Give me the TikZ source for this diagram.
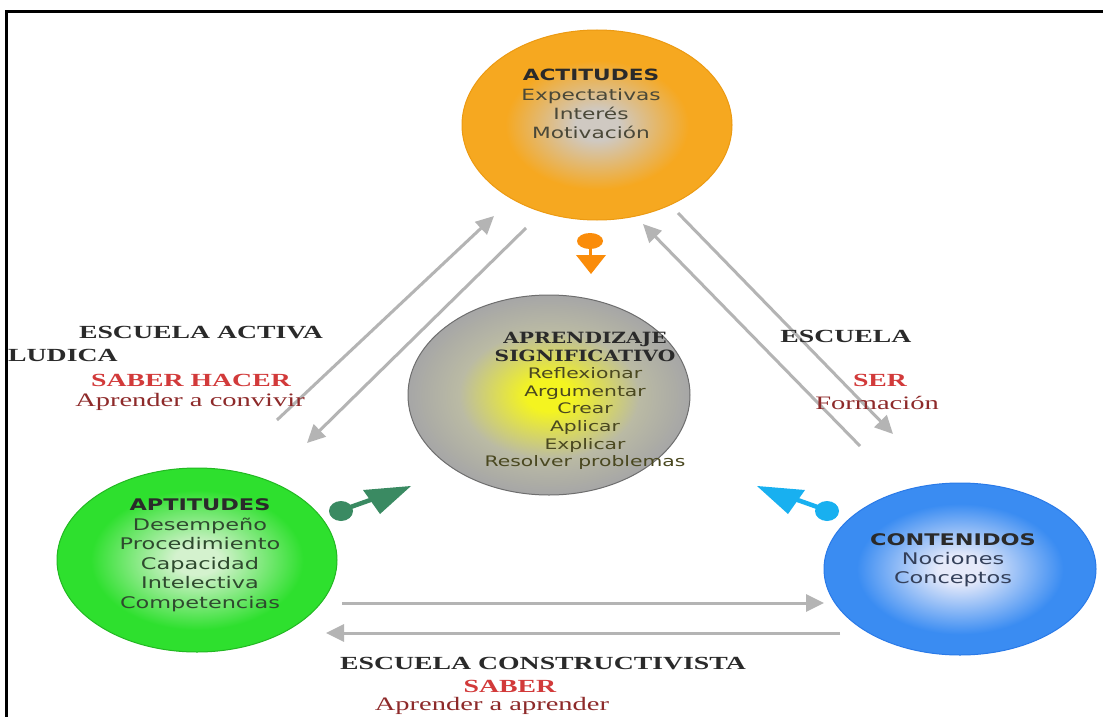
\documentclass[tikz,border=0pt]{standalone}
\usepackage{fontspec}
\usetikzlibrary{shapes.geometric,arrows.meta}
\newfontfamily\fsans[FakeStretch=1.4]{DejaVu Sans}
\newfontfamily\fdser[FakeStretch=1.3]{DejaVu Serif}
\newfontfamily\fserif[FakeStretch=1.5]{Liberation Serif}
\definecolor{ocen}{HTML}{CFC9C2}
\definecolor{oout}{HTML}{F6A820}
\definecolor{oedge}{HTML}{EC9A12}
\definecolor{mcen}{HTML}{F4F420}
\definecolor{mmid}{HTML}{BABAA4}
\definecolor{mout}{HTML}{A6A6A6}
\definecolor{medge}{HTML}{6E6E6E}
\definecolor{gcen}{HTML}{D4F2CE}
\definecolor{gout}{HTML}{2EE02E}
\definecolor{gedge}{HTML}{22B822}
\definecolor{bcen}{HTML}{E6EAFA}
\definecolor{bout}{HTML}{3A8CF2}
\definecolor{bedge}{HTML}{2A7AE8}
\definecolor{arrowgray}{HTML}{B4B4B4}
\definecolor{pinorange}{HTML}{FA8C0A}
\definecolor{pingreen}{HTML}{3A8A62}
\definecolor{pincyan}{HTML}{18B0F0}
\definecolor{labred}{HTML}{D23A3A}
\definecolor{labdred}{HTML}{8E2A2A}
\definecolor{labdark}{HTML}{2A2A2A}
\definecolor{mtextc}{HTML}{4A4820}
\definecolor{acttextc}{HTML}{4A4838}
\definecolor{apttextc}{HTML}{2E4A2E}
\definecolor{contextc}{HTML}{34405A}
\pgfdeclareradialshading{shOrange}{\pgfpoint{0bp}{0bp}}{color(0bp)=(ocen); color(4bp)=(ocen); color(17bp)=(oout); color(25bp)=(oout); color(50bp)=(oout)}
\pgfdeclareradialshading{shMid}{\pgfpoint{0bp}{0bp}}{color(0bp)=(mcen); color(4bp)=(mcen); color(16bp)=(mmid); color(25bp)=(mout); color(50bp)=(mout)}
\pgfdeclareradialshading{shGreen}{\pgfpoint{0bp}{0bp}}{color(0bp)=(gcen); color(4bp)=(gcen); color(19bp)=(gout); color(25bp)=(gout); color(50bp)=(gout)}
\pgfdeclareradialshading{shBlue}{\pgfpoint{0bp}{0bp}}{color(0bp)=(bcen); color(4bp)=(bcen); color(19bp)=(bout); color(25bp)=(bout); color(50bp)=(bout)}
\tikzset{
  blob/.style={ellipse, inner sep=0pt, line width=1pt},
  ctext/.style={align=center, inner sep=0pt, font=\fsans\fontsize{15.5}{19.2}\selectfont},
  mtext/.style={align=center, inner sep=0pt, font=\fsans\fontsize{14.5}{17.6}\selectfont, text=mtextc},
  lab/.style={inner sep=0pt, font=\fserif\bfseries\fontsize{18.5}{22}\selectfont, text=labdark},
  labr/.style={inner sep=0pt, font=\fserif\bfseries\fontsize{18.5}{22}\selectfont, text=labred},
  labs/.style={inner sep=0pt, font=\fserif\fontsize{19}{22}\selectfont, text=labdred},
  garrow/.style={draw=arrowgray, line width=3pt, -{Triangle[length=18pt,width=17pt]}}
}
\begin{document}
\begin{tikzpicture}[x=1pt,y=-1pt]
\useasboundingbox (0,0) rectangle (1103,717);
\fill[white] (0,0) rectangle (1103,717);
\draw[line width=3pt, black] (6,717) -- (6,12) -- (1103,12);

% circles
\node[blob, minimum width=270pt, minimum height=190pt, shading=shOrange, draw=oedge] (act) at (597,125) {};
\node[blob, minimum width=282pt, minimum height=200pt, shading=shMid, draw=medge] (apr) at (549,395) {};
\node[blob, minimum width=280pt, minimum height=184pt, shading=shGreen, draw=gedge] (apt) at (197,560) {};
\node[blob, minimum width=272pt, minimum height=172pt, shading=shBlue, draw=bedge] (con) at (960,569) {};

% circle texts
\node[ctext, text=acttextc] (actT) at (591,104) {{\bfseries\color{labdark}ACTITUDES}\\Expectativas\\Interés\\Motivación};
\node[mtext] (aprT) at (585,401) {{\fdser\bfseries\fontsize{15.5}{17.6}\selectfont\color{labdark}APRENDIZAJE}\\{\fdser\bfseries\fontsize{15.5}{17.6}\selectfont\color{labdark}SIGNIFICATIVO}\\Reflexionar\\Argumentar\\Crear\\Aplicar\\Explicar\\Resolver problemas};
\node[ctext, text=apttextc, font=\fsans\fontsize{16}{19.5}\selectfont] (aptT) at (200,555) {{\bfseries\color{labdark}APTITUDES}\\Desempeño\\Procedimiento\\Capacidad\\Intelectiva\\Competencias};
\node[ctext, text=contextc, font=\fsans\fontsize{16}{19.2}\selectfont] (conT) at (953,560) {{\bfseries\color{labdark}CONTENIDOS}\\Nociones\\Conceptos};

% gray connectors
\coordinate (a1s) at (277,420); \coordinate (a1e) at (494,216);
\coordinate (a2s) at (526,228); \coordinate (a2e) at (307,443);
\coordinate (a3s) at (678,213); \coordinate (a3e) at (893,434);
\coordinate (a4s) at (860,446); \coordinate (a4e) at (643,224);
\coordinate (a5s) at (342,603); \coordinate (a5e) at (824,603);
\coordinate (a6s) at (840,633); \coordinate (a6e) at (326,633);
\draw[garrow] (a1s) -- (a1e);
\draw[garrow] (a2s) -- (a2e);
\draw[garrow] (a3s) -- (a3e);
\draw[garrow] (a4s) -- (a4e);
\draw[garrow] (a5s) -- (a5e);
\draw[garrow] (a6s) -- (a6e);

% pin arrows
\fill[pinorange] (590,241) ellipse [x radius=13, y radius=8];
\draw[pinorange, line width=3pt] (590,246) -- (590,256);
\fill[pinorange] (576,255) -- (606,255) -- (591,274) -- cycle;

\fill[pingreen] (341,511) ellipse [x radius=12, y radius=10];
\draw[pingreen, line width=4.5pt] (345,509) -- (376,498);
\fill[pingreen] (363,490) -- (411,486) -- (380,514) -- cycle;

\fill[pincyan] (827,511) ellipse [x radius=12, y radius=10];
\draw[pincyan, line width=4.5pt] (823,509) -- (792,498);
\fill[pincyan] (805,490) -- (757,486) -- (788,514) -- cycle;

% side labels
\node[lab] (escA) at (201,333) {ESCUELA ACTIVA};
\node[lab, anchor=west] (lud) at (8,355) {LUDICA};
\node[labr] (sh) at (191,380) {SABER HACER};
\node[labs] (conv) at (190,402) {Aprender a convivir};

\node[lab] (escR) at (846,336) {ESCUELA};
\node[labr] (ser) at (880,380) {SER};
\node[labs] (form) at (877,403) {Formación};

\node[lab] (escC) at (543,664) {ESCUELA CONSTRUCTIVISTA};
\node[labr] (sab) at (510,686) {SABER};
\node[labs] (apap) at (492,706) {Aprender a aprender};
\end{tikzpicture}
\end{document}
